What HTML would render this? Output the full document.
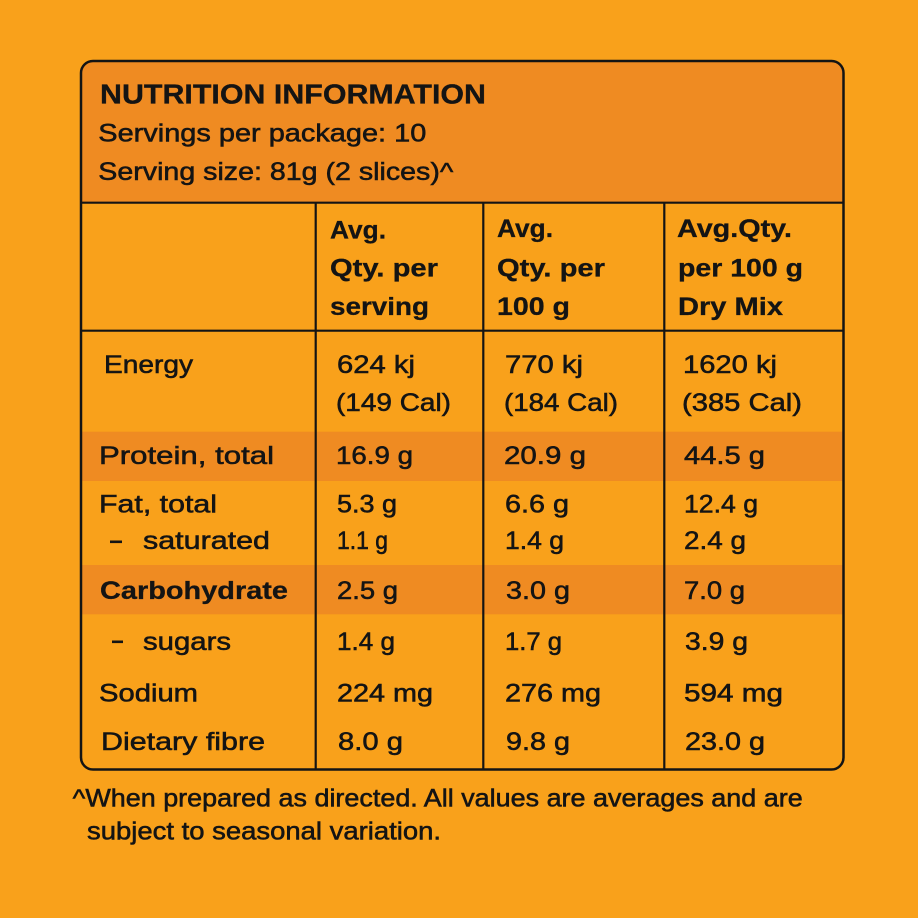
<!DOCTYPE html>
<html>
<head>
<meta charset="utf-8">
<style>
html,body{margin:0;padding:0;background:#F9A11B;}
svg{display:block;}
text{font-family:"Liberation Sans",sans-serif;fill:#141414;stroke:#141414;stroke-width:0.55px;}
.b{font-weight:bold;stroke-width:0.3px;}
</style>
</head>
<body>
<svg width="918" height="918" viewBox="0 0 918 918" xmlns="http://www.w3.org/2000/svg">
<defs>
<clipPath id="box"><rect x="81" y="61" width="762.5" height="708.5" rx="12" ry="12"/></clipPath>
</defs>
<rect x="0" y="0" width="918" height="918" fill="#F9A11B"/>
<g clip-path="url(#box)">
<rect x="60" y="50" width="800" height="152.7" fill="#EF8B22"/>
<rect x="60" y="431.7" width="800" height="49.3" fill="#EF8B22"/>
<rect x="60" y="565" width="800" height="49.3" fill="#EF8B22"/>
</g>
<g stroke="#141414" stroke-width="2.2" fill="none">
<line x1="81" y1="202.7" x2="843.5" y2="202.7"/>
<line x1="81" y1="330.7" x2="843.5" y2="330.7"/>
<line x1="315.7" y1="202.7" x2="315.7" y2="769.5"/>
<line x1="483.3" y1="202.7" x2="483.3" y2="769.5"/>
<line x1="664.3" y1="202.7" x2="664.3" y2="769.5"/>
<rect x="81" y="61" width="762.5" height="708.5" rx="12" ry="12" stroke-width="2.5"/>
</g>

<!-- header -->
<text class="b" x="100" y="103.3" font-size="27.5" textLength="386" lengthAdjust="spacingAndGlyphs">NUTRITION INFORMATION</text>
<text x="98.3" y="141.7" font-size="25" textLength="328" lengthAdjust="spacingAndGlyphs">Servings per package: 10</text>
<text x="98.3" y="180" font-size="25" textLength="355" lengthAdjust="spacingAndGlyphs">Serving size: 81g (2 slices)^</text>

<!-- column headers -->
<text class="b" font-size="25" x="330" y="238.3" textLength="56" lengthAdjust="spacingAndGlyphs">Avg.</text>
<text class="b" font-size="25" x="330" y="276.7" textLength="108" lengthAdjust="spacingAndGlyphs">Qty. per</text>
<text class="b" font-size="25" x="330" y="315" textLength="99" lengthAdjust="spacingAndGlyphs">serving</text>

<text class="b" font-size="25" x="497" y="237" textLength="56" lengthAdjust="spacingAndGlyphs">Avg.</text>
<text class="b" font-size="25" x="497" y="276.7" textLength="108" lengthAdjust="spacingAndGlyphs">Qty. per</text>
<text class="b" font-size="25" x="497" y="315" textLength="73" lengthAdjust="spacingAndGlyphs">100 g</text>

<text class="b" font-size="25" x="677" y="237" textLength="115" lengthAdjust="spacingAndGlyphs">Avg.Qty.</text>
<text class="b" font-size="25" x="678" y="276.7" textLength="125" lengthAdjust="spacingAndGlyphs">per 100 g</text>
<text class="b" font-size="25" x="678" y="315" textLength="105" lengthAdjust="spacingAndGlyphs">Dry Mix</text>

<!-- Energy -->
<text font-size="25" x="104" y="373" textLength="89" lengthAdjust="spacingAndGlyphs">Energy</text>
<text font-size="25" x="337" y="373" textLength="78" lengthAdjust="spacingAndGlyphs">624 kj</text>
<text font-size="25" x="336" y="411" textLength="115" lengthAdjust="spacingAndGlyphs">(149 Cal)</text>
<text font-size="25" x="505" y="373" textLength="78" lengthAdjust="spacingAndGlyphs">770 kj</text>
<text font-size="25" x="504" y="411" textLength="114" lengthAdjust="spacingAndGlyphs">(184 Cal)</text>
<text font-size="25" x="683" y="373" textLength="94" lengthAdjust="spacingAndGlyphs">1620 kj</text>
<text font-size="25" x="682" y="411" textLength="120" lengthAdjust="spacingAndGlyphs">(385 Cal)</text>

<!-- Protein -->
<text font-size="25" x="99" y="464" textLength="175" lengthAdjust="spacingAndGlyphs">Protein, total</text>
<text font-size="25" x="336" y="464" textLength="77" lengthAdjust="spacingAndGlyphs">16.9 g</text>
<text font-size="25" x="504" y="464" textLength="82" lengthAdjust="spacingAndGlyphs">20.9 g</text>
<text font-size="25" x="684" y="464" textLength="81" lengthAdjust="spacingAndGlyphs">44.5 g</text>

<!-- Fat -->
<text font-size="25" x="99" y="512.7" textLength="118" lengthAdjust="spacingAndGlyphs">Fat, total</text>
<text font-size="25" x="337" y="512.7" textLength="60" lengthAdjust="spacingAndGlyphs">5.3 g</text>
<text font-size="25" x="505" y="512.7" textLength="64" lengthAdjust="spacingAndGlyphs">6.6 g</text>
<text font-size="25" x="684" y="512.7" textLength="74" lengthAdjust="spacingAndGlyphs">12.4 g</text>

<rect x="110" y="540.5" width="12" height="2.6" fill="#141414"/>
<text font-size="25" x="143" y="549" textLength="127" lengthAdjust="spacingAndGlyphs">saturated</text>
<text font-size="25" x="337" y="549" textLength="51" lengthAdjust="spacingAndGlyphs">1.1 g</text>
<text font-size="25" x="505" y="549" textLength="59" lengthAdjust="spacingAndGlyphs">1.4 g</text>
<text font-size="25" x="684" y="549" textLength="62" lengthAdjust="spacingAndGlyphs">2.4 g</text>

<!-- Carbohydrate -->
<text class="b" font-size="25" x="100" y="599" textLength="188" lengthAdjust="spacingAndGlyphs">Carbohydrate</text>
<text font-size="25" x="337" y="599" textLength="61" lengthAdjust="spacingAndGlyphs">2.5 g</text>
<text font-size="25" x="506" y="599" textLength="64" lengthAdjust="spacingAndGlyphs">3.0 g</text>
<text font-size="25" x="684" y="599" textLength="61" lengthAdjust="spacingAndGlyphs">7.0 g</text>

<!-- sugars -->
<rect x="112" y="640.5" width="11" height="2.6" fill="#141414"/>
<text font-size="25" x="143" y="650" textLength="88" lengthAdjust="spacingAndGlyphs">sugars</text>
<text font-size="25" x="337" y="650" textLength="58" lengthAdjust="spacingAndGlyphs">1.4 g</text>
<text font-size="25" x="505" y="650" textLength="57" lengthAdjust="spacingAndGlyphs">1.7 g</text>
<text font-size="25" x="685" y="650" textLength="63" lengthAdjust="spacingAndGlyphs">3.9 g</text>

<!-- Sodium -->
<text font-size="25" x="99" y="701.7" textLength="99" lengthAdjust="spacingAndGlyphs">Sodium</text>
<text font-size="25" x="337" y="701.7" textLength="96" lengthAdjust="spacingAndGlyphs">224 mg</text>
<text font-size="25" x="505" y="701.7" textLength="96" lengthAdjust="spacingAndGlyphs">276 mg</text>
<text font-size="25" x="684" y="701.7" textLength="99" lengthAdjust="spacingAndGlyphs">594 mg</text>

<!-- Dietary fibre -->
<text font-size="25" x="101" y="750" textLength="164" lengthAdjust="spacingAndGlyphs">Dietary fibre</text>
<text font-size="25" x="338" y="750" textLength="65" lengthAdjust="spacingAndGlyphs">8.0 g</text>
<text font-size="25" x="506" y="750" textLength="64" lengthAdjust="spacingAndGlyphs">9.8 g</text>
<text font-size="25" x="685" y="750" textLength="80" lengthAdjust="spacingAndGlyphs">23.0 g</text>

<!-- footnote -->
<text font-size="25" x="72.7" y="806.7" textLength="730" lengthAdjust="spacingAndGlyphs">^When prepared as directed. All values are averages and are</text>
<text font-size="25" x="87" y="839.3" textLength="354" lengthAdjust="spacingAndGlyphs">subject to seasonal variation.</text>
</svg>
</body>
</html>
